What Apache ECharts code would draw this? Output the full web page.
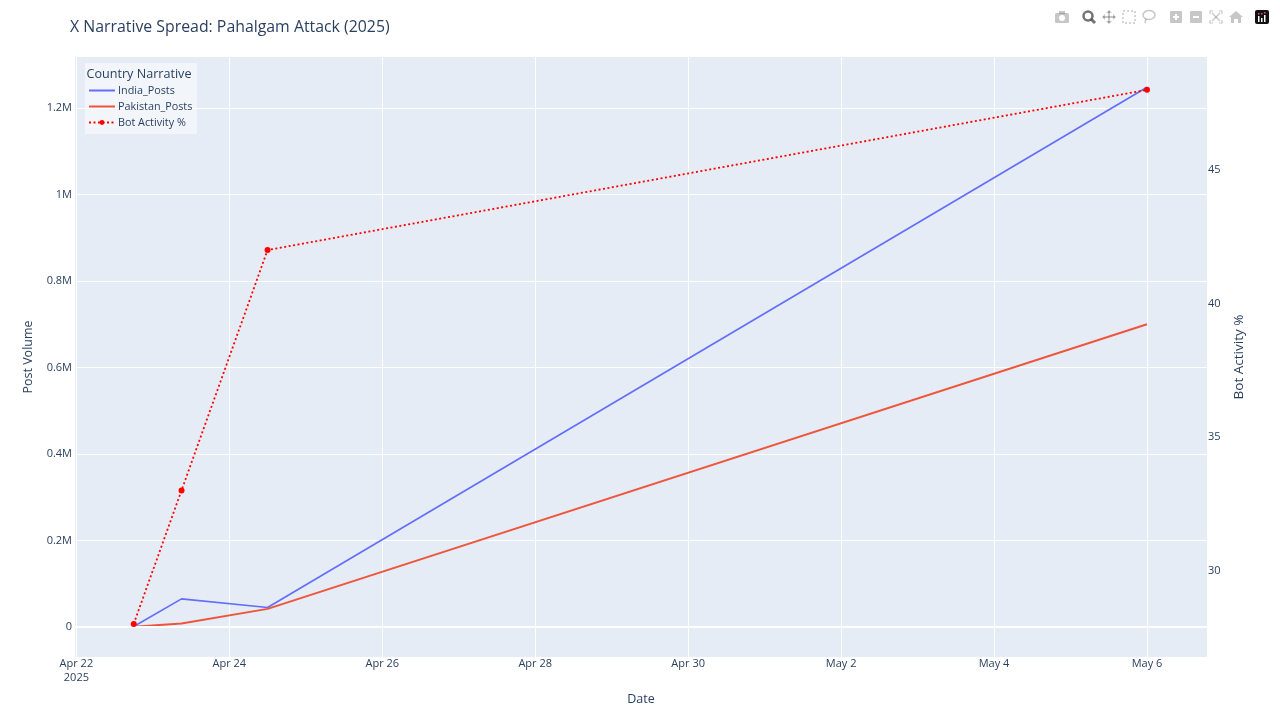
<!DOCTYPE html>
<html>
<head>
<meta charset="utf-8">
<style>html,body{margin:0;padding:0;background:#fff}#c{width:1280px;height:720px}</style>
<script src="https://cdn.jsdelivr.net/npm/echarts@6/dist/echarts.min.js"></script>
</head>
<body>
<div id="c"></div>
<script>
const dates = ['2025-04-22T18:00:00Z','2025-04-23T09:00:00Z','2025-04-24T12:00:00Z','2025-05-06T00:00:00Z'];
const indiaPosts = [1000, 65000, 45000, 1248000];
const pakistanPosts = [500, 8000, 42000, 700000];
const botActivity = [28, 33, 42, 48];
const xTickDates = ['2025-04-22','2025-04-24','2025-04-26','2025-04-28','2025-04-30','2025-05-02','2025-05-04','2025-05-06'];
const xTickLabels = ['Apr 22\n2025','Apr 24','Apr 26','Apr 28','Apr 30','May 2','May 4','May 6'];
const leftTicks = [0, 200000, 400000, 600000, 800000, 1000000, 1200000];
const leftTickLabels = ['0','0.2M','0.4M','0.6M','0.8M','1M','1.2M'];
const rightTicks = [30, 35, 40, 45];

const xMin = Date.parse('2025-04-21T23:34:00Z');
const xMax = Date.parse('2025-05-06T18:50:00Z');
const yLeftMin = -69400, yLeftMax = 1318000;
const yRightMin = 26.76, yRightMax = 49.23;

const ink = '#2a3f5f';
const font = '"Open Sans", Verdana, sans-serif';
const xTickValues = xTickDates.map(d => Date.parse(d + 'T00:00:00Z'));
const pair = (vals) => dates.map((d, i) => [Date.parse(d), vals[i]]);
const gray = 'rgba(68,68,68,0.3)';
const dark = 'rgba(68,68,68,0.75)';

const icons = [
  {type:'rect',shape:{x:1055,y:13,width:14,height:10,r:1.5},style:{fill:gray}},
  {type:'rect',shape:{x:1059,y:11,width:6,height:3},style:{fill:gray}},
  {type:'circle',shape:{cx:1062,cy:18,r:3},style:{fill:'#fff'}},
  {type:'circle',shape:{cx:1088,cy:16,r:4.5},style:{fill:'none',stroke:dark,lineWidth:2.5}},
  {type:'line',shape:{x1:1091,y1:19,x2:1095,y2:23},style:{stroke:dark,lineWidth:3}},
  {type:'line',shape:{x1:1103,y1:17,x2:1115,y2:17},style:{stroke:gray,lineWidth:2}},
  {type:'line',shape:{x1:1109,y1:11,x2:1109,y2:23},style:{stroke:gray,lineWidth:2}},
  {type:'polygon',shape:{points:[[1109,10],[1112,13],[1106,13]]},style:{fill:gray}},
  {type:'polygon',shape:{points:[[1109,24],[1112,21],[1106,21]]},style:{fill:gray}},
  {type:'polygon',shape:{points:[[1102,17],[1105,14],[1105,20]]},style:{fill:gray}},
  {type:'polygon',shape:{points:[[1116,17],[1113,14],[1113,20]]},style:{fill:gray}},
  {type:'rect',shape:{x:1123,y:11,width:12,height:12},style:{fill:'none',stroke:gray,lineWidth:1.5,lineDash:[2,2]}},
  {type:'ellipse',shape:{cx:1149,cy:15,rx:6,ry:4.5},style:{fill:'none',stroke:gray,lineWidth:1.5}},
  {type:'line',shape:{x1:1146,y1:19,x2:1145,y2:23},style:{stroke:gray,lineWidth:1.5}},
  {type:'rect',shape:{x:1170,y:11,width:12,height:12,r:1},style:{fill:gray}},
  {type:'line',shape:{x1:1173,y1:17,x2:1179,y2:17},style:{stroke:'#fff',lineWidth:2}},
  {type:'line',shape:{x1:1176,y1:14,x2:1176,y2:20},style:{stroke:'#fff',lineWidth:2}},
  {type:'rect',shape:{x:1190,y:11,width:12,height:12,r:1},style:{fill:gray}},
  {type:'line',shape:{x1:1193,y1:17,x2:1199,y2:17},style:{stroke:'#fff',lineWidth:2}},
  {type:'polyline',shape:{points:[[1210,14],[1210,11],[1213,11]]},style:{fill:'none',stroke:gray,lineWidth:1.2}},
  {type:'polyline',shape:{points:[[1219,11],[1222,11],[1222,14]]},style:{fill:'none',stroke:gray,lineWidth:1.2}},
  {type:'polyline',shape:{points:[[1210,20],[1210,23],[1213,23]]},style:{fill:'none',stroke:gray,lineWidth:1.2}},
  {type:'polyline',shape:{points:[[1219,23],[1222,23],[1222,20]]},style:{fill:'none',stroke:gray,lineWidth:1.2}},
  {type:'line',shape:{x1:1212,y1:13,x2:1220,y2:21},style:{stroke:gray,lineWidth:1.2}},
  {type:'line',shape:{x1:1220,y1:13,x2:1212,y2:21},style:{stroke:gray,lineWidth:1.2}},
  {type:'polygon',shape:{points:[[1236,11],[1243,17],[1241,17],[1241,23],[1238,23],[1238,19],[1234,19],[1234,23],[1231,23],[1231,17],[1229,17]]},style:{fill:gray}},
  {type:'rect',shape:{x:1255,y:10,width:14,height:14,r:2},style:{fill:'#111'}},
  {type:'rect',shape:{x:1258,y:16,width:1.5,height:6},style:{fill:'#fff'}},
  {type:'rect',shape:{x:1261,y:18,width:1.5,height:4},style:{fill:'#fff'}},
  {type:'rect',shape:{x:1264,y:15,width:1.5,height:7},style:{fill:'#fff'}},
  {type:'rect',shape:{x:1258,y:13,width:1.5,height:1.5},style:{fill:'#e8536b'}},
  {type:'rect',shape:{x:1261,y:13,width:1.5,height:1.5},style:{fill:'#e8536b'}},
  {type:'rect',shape:{x:1264,y:12,width:1.5,height:1.5},style:{fill:'#e8536b'}}
].map(o => Object.assign({silent:true,z:50}, o));

const chart = echarts.init(document.getElementById('c'), null, {renderer:'canvas'});
chart.setOption({
  animation:false,
  backgroundColor:'#fff',
  textStyle:{fontFamily:font,color:ink},
  title:{text:'X Narrative Spread: Pahalgam Attack (2025)',left:70,top:19,padding:0,
    textStyle:{fontFamily:font,fontSize:15.85,fontWeight:'normal',color:ink}},
  grid:{left:75,top:57,width:1132,height:600,backgroundColor:'#e5ecf6',show:true,borderWidth:0,containLabel:false},
  legend:{left:88,top:84,orient:'vertical',itemWidth:26,itemHeight:6,itemGap:3,padding:0,
    data:[{name:'India_Posts',itemStyle:{opacity:0}},{name:'Pakistan_Posts',itemStyle:{opacity:0}},{name:'Bot Activity %'}],
    textStyle:{fontFamily:font,fontSize:10.8,lineHeight:13,color:ink,padding:[0,0,0,-2]},z:20},
  graphic:[
    {type:'rect',shape:{x:85,y:63,width:112,height:71},style:{fill:'rgba(255,255,255,0.5)'},silent:true,z:10},
    {type:'text',x:86.5,y:74.5,style:{text:'Country Narrative',fill:ink,font:'12.6px '+font,verticalAlign:'middle'},silent:true,z:20}
  ].concat(icons),
  xAxis:{type:'value',min:xMin,max:xMax,
    name:'Date',nameLocation:'middle',nameGap:36,nameTextStyle:{fontFamily:font,fontSize:12.5,color:ink},
    axisLine:{show:false},
    axisTick:{show:false,customValues:xTickValues},
    splitLine:{show:true,lineStyle:{color:'#fff',width:1}},
    axisLabel:{customValues:xTickValues,margin:0,fontFamily:font,fontSize:11,color:ink,lineHeight:14,
      formatter:v=>xTickLabels[xTickValues.indexOf(v)]||''}},
  yAxis:[
    {type:'value',min:yLeftMin,max:yLeftMax,position:'left',
      name:'Post Volume',nameLocation:'middle',nameGap:40,nameTextStyle:{fontFamily:font,fontSize:12.5,color:ink},
      axisLine:{show:false},
      axisTick:{show:false,customValues:leftTicks},
      splitLine:{show:true,lineStyle:{color:'#fff',width:1}},
      axisLabel:{customValues:leftTicks,margin:3,fontFamily:font,fontSize:11,color:ink,padding:[4,0,0,0],
        formatter:v=>leftTickLabels[leftTicks.indexOf(v)]||''}},
    {type:'value',min:yRightMin,max:yRightMax,position:'right',
      name:'Bot Activity %',nameLocation:'middle',nameGap:25,nameTextStyle:{fontFamily:font,fontSize:13.5,color:ink},
      axisLine:{show:false},
      axisTick:{show:false,customValues:rightTicks},
      splitLine:{show:false},
      axisLabel:{customValues:rightTicks,margin:1,fontFamily:font,fontSize:11,color:ink,padding:[4,0,0,0]}}
  ],
  series:[
    {name:'zero',type:'line',data:[],z:1,silent:true,
      markLine:{silent:true,symbol:'none',label:{show:false},animation:false,
        lineStyle:{color:'#fff',width:2,type:'solid'},data:[{yAxis:0}]}},
    {name:'India_Posts',type:'line',data:pair(indiaPosts),showSymbol:false,symbol:'none',z:3,
      lineStyle:{color:'#636efa',width:1.7},itemStyle:{color:'#636efa'}},
    {name:'Pakistan_Posts',type:'line',data:pair(pakistanPosts),showSymbol:false,symbol:'none',z:4,
      lineStyle:{color:'#EF553B',width:1.9},itemStyle:{color:'#EF553B'}},
    {name:'Bot Activity %',type:'line',yAxisIndex:1,data:pair(botActivity),symbol:'circle',symbolSize:6,z:5,
      lineStyle:{color:'red',width:1.8,type:[2,2.5]},itemStyle:{color:'red'}}
  ]
});
</script>
</body>
</html>
